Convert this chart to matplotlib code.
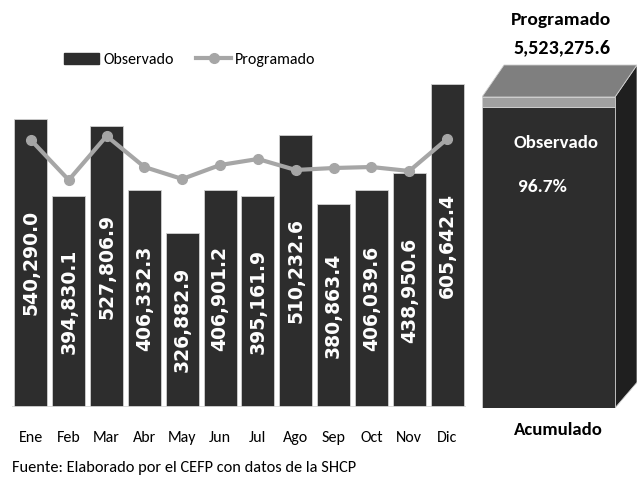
import matplotlib
matplotlib.use("Agg")
import matplotlib.pyplot as plt
from matplotlib.patches import Polygon, Rectangle
from matplotlib.lines import Line2D
from matplotlib.font_manager import FontProperties
import numpy as np

NARROW = ['Carlito', 'Archivo Narrow', 'Roboto Condensed', 'DejaVu Sans']
plt.rcParams['font.family'] = NARROW

months = ["Ene", "Feb", "Mar", "Abr", "May", "Jun", "Jul", "Ago", "Sep", "Oct", "Nov", "Dic"]
observado = [540290.0, 394830.1, 527806.9, 406332.3, 326882.9, 406901.2,
             395161.9, 510232.6, 380863.4, 406039.6, 438950.6, 605642.4]
programado = [500600, 425600, 508100, 450000, 427500, 453700,
              465000, 444400, 448100, 450000, 442500, 502500]
prog_total = 5523275.6
obs_pct = 96.7
source = "Fuente: Elaborado por el CEFP con datos de la SHCP"

W, H = 638, 480
fig = plt.figure(figsize=(W / 100, H / 100), dpi=100)

BAR = "#2d2d2d"
LINE = "#a6a6a6"

# main chart axes
base_px = 407
top_px = 70
ax = fig.add_axes([12 / W, (H - base_px) / H, 454 / W, (base_px - top_px) / H])
x = np.arange(len(months))
ax.bar(x, observado, width=0.87, color=BAR, edgecolor="#d0d0d0", linewidth=0.6, zorder=2)
ax.plot(x, programado, color=LINE, lw=3, marker="o", ms=7, zorder=3)
ax.set_xlim(-0.5, 11.5)
ax.set_ylim(0, 1875 * (base_px - top_px))
for s in ax.spines.values():
    s.set_visible(False)
ax.axhline(0, color="#d9d9d9", lw=2, zorder=4)
ax.set_yticks([])
ax.set_xticks(x)
ax.set_xticklabels(months, fontsize=11.5)
ax.tick_params(axis="x", length=0, pad=17)
label_fp = FontProperties(family="DejaVu Sans", weight="bold", size=13.5)
for xi, v in zip(x, observado):
    ax.text(xi, v / 2, f"{v:,.1f}", rotation=90, ha="center", va="center",
            color="white", fontproperties=label_fp, zorder=5)

handles = [Rectangle((0, 0), 1, 1, color=BAR),
           Line2D([0], [0], color=LINE, lw=3, marker="o", ms=7)]
fig.legend(handles, ["Observado", "Programado"], loc="center",
           bbox_to_anchor=(190 / W, 1 - 60 / H), ncol=2, frameon=False,
           fontsize=11.5, handlelength=2.2, handletextpad=0.25, columnspacing=1.4)

fig.text(12 / W, 1 - 468 / H, source, fontsize=11.8, ha="left", va="center")

# accumulated 3D box
bx0, bx1 = 482, 637
bbase = 408
btop_ax = 55
front_top = 97
ax2 = fig.add_axes([bx0 / W, (H - bbase) / H, (bx1 - bx0) / W, (bbase - btop_ax) / H])
scale = prog_total / (bbase - front_top)
ax2.set_ylim(0, scale * (bbase - btop_ax))
ax2.set_xlim(0, 1)
ax2.axis("off")
obs_total = prog_total * obs_pct / 100
fw = 133 / (bx1 - bx0)
dx = 1 - fw
dy = 32 * scale
ax2.add_patch(Polygon([[fw, 0], [fw + dx, dy * 0.8], [fw + dx, prog_total + dy], [fw, prog_total]],
                      closed=True, facecolor="#1f1f1f", edgecolor="#cfcfcf", lw=0.6, zorder=1))
ax2.add_patch(Polygon([[0, prog_total], [dx, prog_total + dy], [fw + dx, prog_total + dy], [fw, prog_total]],
                      closed=True, facecolor="#7f7f7f", edgecolor="#cfcfcf", lw=0.6, zorder=1))
ax2.bar([fw / 2], [obs_total], width=fw, color="#2d2d2d", edgecolor="#cfcfcf", lw=0.6, zorder=2)
ax2.bar([fw / 2], [prog_total - obs_total], bottom=[obs_total], width=fw,
        color="#a0a0a0", edgecolor="#cfcfcf", lw=0.6, zorder=2)

fig.text(561 / W, 1 - 20 / H, "Programado", fontsize=14, fontweight="bold", ha="center", va="center")
fig.text(562 / W, 1 - 48 / H, f"{prog_total:,.1f}", fontsize=14.5, fontweight="bold", ha="center", va="center")
fig.text(556 / W, 1 - 143 / H, "Observado", fontsize=13.5, fontweight="bold", color="white", ha="center", va="center")
fig.text(542 / W, 1 - 187 / H, f"{obs_pct}%", fontsize=14, fontweight="bold", color="white", ha="center", va="center")
fig.text(558 / W, 1 - 430 / H, "Acumulado", fontsize=13.5, fontweight="bold", ha="center", va="center")

fig.savefig("out.png", dpi=100, facecolor="white")
